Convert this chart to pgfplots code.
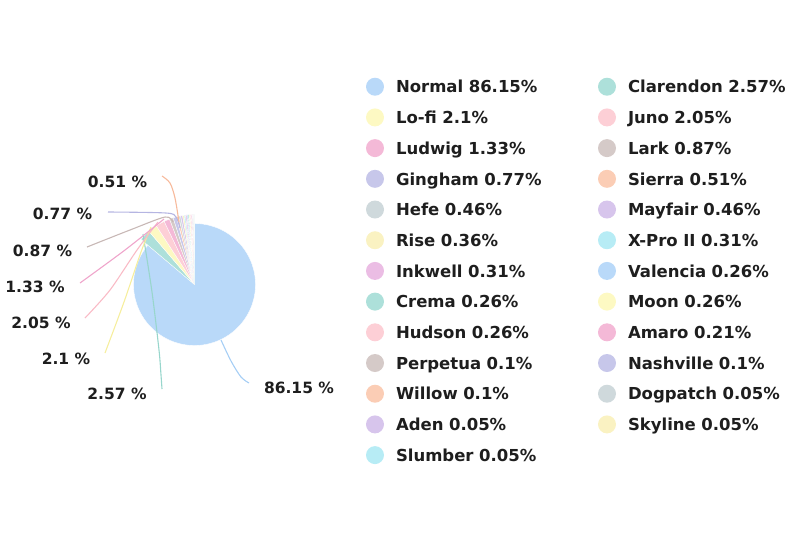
\documentclass[border=0pt]{standalone}
\usepackage{pgfplots}
\usepackage{pgfplotstable}
\pgfplotsset{compat=1.18}
\usepackage{fontspec}
\setmainfont{DejaVu Sans}

\definecolor{pie0}{HTML}{B9D9F9}
\definecolor{pie1}{HTML}{ADE0DA}
\definecolor{pie2}{HTML}{FDF9C3}
\definecolor{pie3}{HTML}{FDCFD6}
\definecolor{pie4}{HTML}{F4B9D7}
\definecolor{pie5}{HTML}{D5CAC8}
\definecolor{pie6}{HTML}{C7C7EA}
\definecolor{pie7}{HTML}{FBCDB5}
\definecolor{pie8}{HTML}{CFD9DC}
\definecolor{pie9}{HTML}{D7C5EC}
\definecolor{pie10}{HTML}{FAF2C2}
\definecolor{pie11}{HTML}{B7ECF5}
\definecolor{pie12}{HTML}{EBBDE4}
\definecolor{pie13}{HTML}{B9D9F9}
\definecolor{pie14}{HTML}{ADE0DA}
\definecolor{pie15}{HTML}{FDF9C3}
\definecolor{pie16}{HTML}{FDCFD6}
\definecolor{pie17}{HTML}{F4B9D7}
\definecolor{pie18}{HTML}{D5CAC8}
\definecolor{pie19}{HTML}{C7C7EA}
\definecolor{pie20}{HTML}{FBCDB5}
\definecolor{pie21}{HTML}{CFD9DC}
\definecolor{pie22}{HTML}{D7C5EC}
\definecolor{pie23}{HTML}{FAF2C2}
\definecolor{pie24}{HTML}{B7ECF5}
\definecolor{txt}{HTML}{1E1E1E}
% leader line colours (slice colours, slightly deeper)
\definecolor{ln0}{HTML}{A6CEF5}
\definecolor{ln1}{HTML}{98D6CC}
\definecolor{ln2}{HTML}{F6EE9E}
\definecolor{ln3}{HTML}{F9BBC6}
\definecolor{ln4}{HTML}{EFA5CB}
\definecolor{ln5}{HTML}{C8B8B6}
\definecolor{ln6}{HTML}{B5B5E2}
\definecolor{ln7}{HTML}{F7BA9C}

\pgfplotstableread[col sep=comma]{
name,value
Normal,86.15
Clarendon,2.57
Lo-fi,2.1
Juno,2.05
Ludwig,1.33
Lark,0.87
Gingham,0.77
Sierra,0.51
Hefe,0.46
Mayfair,0.46
Rise,0.36
X-Pro II,0.31
Inkwell,0.31
Valencia,0.26
Crema,0.26
Moon,0.26
Hudson,0.26
Amaro,0.21
Perpetua,0.1
Nashville,0.1
Willow,0.1
Dogpatch,0.05
Aden,0.05
Skyline,0.05
Slumber,0.05
}\piedata

% cumulative angles (clockwise from 12 o'clock)
\gdef\piecum{0}
\foreach \i in {0,...,24}{%
  \pgfplotstablegetelem{\i}{value}\of\piedata
  \let\v=\pgfplotsretval
  \pgfplotstablegetelem{\i}{name}\of\piedata
  \let\n=\pgfplotsretval
  \pgfmathsetmacro\s{90-3.6*\piecum}%
  \pgfmathsetmacro\e{90-3.6*(\piecum+\v)}%
  \pgfmathsetmacro\c{\piecum+\v}%
  \ifnum\i=0 \def\r{61}\else\def\r{70}\fi
  \expandafter\xdef\csname pieS\i\endcsname{\s}%
  \expandafter\xdef\csname pieE\i\endcsname{\e}%
  \expandafter\xdef\csname pieR\i\endcsname{\r}%
  \expandafter\xdef\csname pieV\i\endcsname{\v}%
  \expandafter\xdef\csname pieN\i\endcsname{\n}%
  \xdef\piecum{\c}%
}

\begin{document}
\begin{tikzpicture}
\begin{axis}[
  scale only axis, width=800pt, height=550pt,
  xmin=0, xmax=800, ymin=0, ymax=550, y dir=reverse,
  hide axis, clip=false,
  legend columns=2,
  legend cell align=left,
  legend image code/.code={\fill[#1,draw=none] (9pt,2pt) circle (9pt);},
  legend style={draw=none, fill=none, inner sep=0pt, outer sep=0pt,
    at={(axis cs:366,77.7)}, anchor=north west,
    font=\fontsize{16.5}{20}\selectfont\bfseries, text=txt,
    row sep=11.95pt,
    nodes={inner sep=0pt, text height=12pt, text depth=3.5pt, text width=190pt, align=left},
    /tikz/every odd column/.append style={column sep=12pt},
    /tikz/every even column/.append style={column sep=12pt}},
]
\pgfplotsinvokeforeach{0,...,24}{
  \addplot[fill=pie#1, draw=white, line width=0.35pt, samples=80, variable=\t,
    domain=\csname pieE#1\endcsname:\csname pieS#1\endcsname]
    ({194.5+\csname pieR#1\endcsname*cos(\t)},{284.5-\csname pieR#1\endcsname*sin(\t)}) -- (axis cs:194.5,284.5) -- cycle;
  \addlegendentryexpanded{\csname pieN#1\endcsname\space\csname pieV#1\endcsname\%}
}
% leader lines
\addplot[forget plot, smooth, ln0, line width=1.1pt] coordinates {(221,340) (231,361) (241,377) (249,383)};
\addplot[forget plot, smooth, ln1, line width=1.1pt] coordinates {(143,234) (152,292) (159,350) (161,375) (162,389)};
\addplot[forget plot, smooth, ln2, line width=1.1pt] coordinates {(151,227) (141,252) (124,302) (105,353)};
\addplot[forget plot, smooth, ln3, line width=1.1pt] coordinates {(158,222) (137,250) (110,290) (85,318)};
\addplot[forget plot, smooth, ln4, line width=1.1pt] coordinates {(164,219) (125,250) (80,283)};
\addplot[forget plot, smooth, ln5, line width=1.1pt] coordinates {(173,222) (165,217) (130,230) (87,247)};
\addplot[forget plot, smooth, ln6, line width=1.1pt] coordinates {(180,228) (176,217) (166,213) (108,212)};
\addplot[forget plot, smooth, ln7, line width=1.1pt] coordinates {(179,222) (175,198) (170,183) (162,176)};
% data labels
\begin{scope}[every node/.style={font=\fontsize{15.5}{19}\selectfont\bfseries, text=txt, anchor=base, inner sep=0pt}]
\node at (axis cs:117.5,187) {0.51 \%};
\node at (axis cs:62.5,219) {0.77 \%};
\node at (axis cs:42.5,256) {0.87 \%};
\node at (axis cs:35,292) {1.33 \%};
\node at (axis cs:41,328) {2.05 \%};
\node at (axis cs:66,364) {2.1 \%};
\node at (axis cs:117,399) {2.57 \%};
\node at (axis cs:299,393) {86.15 \%};
\end{scope}
\end{axis}
\pgfresetboundingbox
\path (current axis.south west) rectangle (current axis.north east);
\end{tikzpicture}
\end{document}
